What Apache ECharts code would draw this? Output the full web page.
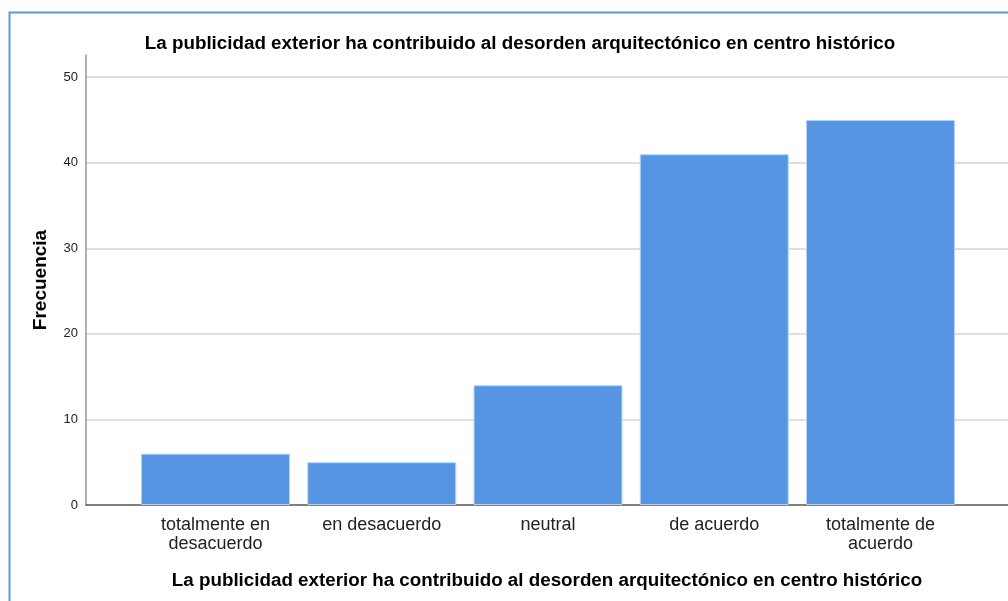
<!DOCTYPE html>
<html>
<head>
<meta charset="utf-8">
<script src="https://cdn.jsdelivr.net/npm/echarts@6/dist/echarts.min.js"></script>
<style>
html,body{margin:0;padding:0;background:#fff;}
#c{width:1008px;height:601px;}
</style>
</head>
<body>
<div id="c"></div>
<script>
const categories = ['totalmente en\ndesacuerdo', 'en desacuerdo', 'neutral', 'de acuerdo', 'totalmente de\nacuerdo'];
const frecuencia = [6, 5, 14, 41, 45];
const titleText = 'La publicidad exterior ha contribuido al desorden arquitectónico en centro histórico';
const yName = 'Frecuencia';

const FONT = '"Liberation Sans", Arial, sans-serif';
const chart = echarts.init(document.getElementById('c'), null, {renderer: 'canvas'});
const yMax = 52.6;
chart.setOption({
  animation: false,
  backgroundColor: '#fff',
  title: {
    text: titleText,
    left: 515, textAlign: 'center', top: 29,
    textStyle: {fontFamily: FONT, fontSize: 18.8, fontWeight: 'bold', color: '#000'}
  },
  graphic: [{
    type: 'rect', shape: {x: 9.5, y: 12.5, width: 1020, height: 620},
    style: {fill: 'none', stroke: '#5b9bd5', lineWidth: 2}, z: 100
  }],
  grid: [
    {left: 132.4, right: 44.4, top: 55, bottom: 96},
    {left: 86, right: 0, top: 55, bottom: 96}
  ],
  xAxis: [
    {
      gridIndex: 0, type: 'category', data: categories,
      axisLine: {show: false}, axisTick: {show: false},
      axisLabel: {fontFamily: FONT, fontSize: 18, color: '#222', margin: 11, lineHeight: 18.5}
    },
    {
      gridIndex: 1, type: 'value', min: 0, max: 1,
      axisLine: {show: true, lineStyle: {color: '#555', width: 1.5}},
      axisTick: {show: false}, axisLabel: {show: false}, splitLine: {show: false},
      name: titleText, nameLocation: 'middle', nameGap: 66,
      nameTextStyle: {fontFamily: FONT, fontSize: 18.8, fontWeight: 'bold', color: '#000'}
    }
  ],
  yAxis: [
    {
      gridIndex: 0, type: 'value', min: 0, max: yMax,
      axisLine: {show: false}, axisTick: {show: false}, axisLabel: {show: false}, splitLine: {show: false}
    },
    {
      gridIndex: 1, type: 'value', min: 0, max: yMax, interval: 10,
      axisLine: {show: true, lineStyle: {color: '#999', width: 1.5}},
      axisTick: {show: false},
      axisLabel: {fontFamily: FONT, fontSize: 13, color: '#222', margin: 8, showMaxLabel: false,
        formatter: v => (v % 10 === 0 ? String(v) : '')},
      splitLine: {show: true, showMinLine: false, showMaxLine: false, lineStyle: {color: '#d4d4d4', width: 1.5}},
      name: yName, nameLocation: 'middle', nameGap: 36,
      nameTextStyle: {fontFamily: FONT, fontSize: 19, fontWeight: 'bold', color: '#000'}
    }
  ],
  series: [{
    type: 'bar', xAxisIndex: 0, yAxisIndex: 0,
    data: frecuencia,
    barCategoryGap: '10.4%',
    itemStyle: {color: '#5595e3', borderColor: '#b5d2f3', borderWidth: 1},
    z: 3
  }]
});
</script>
</body>
</html>
